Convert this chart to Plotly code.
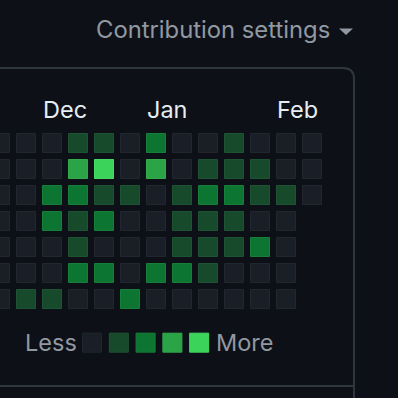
import plotly.graph_objects as go

# ---- data ----
months = ["Dec", "Jan", "Feb"]
month_cols = [2, 6, 11]          # week column where each month starts
levels = [                        # contribution level per weekday row / week column
    [0, 0, 0, 1, 1, 0, 2, 0, 0, 1, 0, 0, 0],
    [0, 0, 0, 3, 4, 0, 3, 0, 1, 1, 1, 0, 0],
    [0, 0, 2, 2, 1, 1, 0, 1, 2, 2, 1, 1, 0],
    [0, 0, 2, 1, 2, 0, 0, 1, 1, 1, 0, 0, None],
    [0, 0, 0, 1, 0, 0, 0, 1, 1, 1, 2, 0, None],
    [0, 0, 0, 2, 2, 0, 2, 2, 1, 0, 0, 0, None],
    [0, 1, 1, 0, 0, 2, 0, 0, 0, 0, 0, 0, None],
]
legend_levels = [0, 1, 2, 3, 4]

# ---- styles ----
BG = "#0d1117"
FILL = ["#1a1f27", "#17492b", "#0b7531", "#2aa446", "#3cd35a"]
EDGE = ["#22272f", "#1e5433", "#177f39", "#33ab4d", "#46d862"]
BORDER = "#30363d"
MUTED = "#9198a1"
FG = "#e6edf3"
FONT = "Inter"
W = H = 398

def px(x):
    return x / W

def py(y):
    return 1 - y / H

fig = go.Figure()

# grid cells, one trace per level
for lv in range(5):
    xs, ys = [], []
    for r, row in enumerate(levels):
        for c, v in enumerate(row):
            if v == lv:
                xs.append(c)
                ys.append(r)
    fig.add_trace(go.Scatter(
        x=xs, y=ys, mode="markers", hoverinfo="skip", showlegend=False,
        marker=dict(symbol="square", size=19, color=FILL[lv],
                    line=dict(color=EDGE[lv], width=1)),
    ))

# legend swatches
leg_x0, leg_step, leg_y = 3.54, 1.03, 7.68
fig.add_trace(go.Scatter(
    x=[leg_x0 + i * leg_step for i in range(len(legend_levels))],
    y=[leg_y] * len(legend_levels),
    mode="markers", hoverinfo="skip", showlegend=False,
    marker=dict(symbol="square", size=19,
                color=[FILL[l] for l in legend_levels],
                line=dict(color=[EDGE[l] for l in legend_levels], width=1)),
))

annotations = []
for m, c in zip(months, month_cols):
    annotations.append(dict(x=c - 0.42, y=-1.3, xref="x", yref="y", text=m,
                            showarrow=False, xanchor="left", yanchor="middle",
                            font=dict(family=FONT, size=23.5, color=FG)))
annotations.append(dict(x=px(94), y=py(29), xref="paper", yref="paper",
                        text="Contribution settings", showarrow=False,
                        xanchor="left", yanchor="middle",
                        font=dict(family=FONT, size=23.8, color=MUTED)))
annotations.append(dict(x=leg_x0 - 0.52, y=leg_y, xref="x", yref="y", text="Less",
                        showarrow=False, xanchor="right", yanchor="middle",
                        font=dict(family=FONT, size=23.5, color=MUTED)))
annotations.append(dict(x=leg_x0 + 4 * leg_step + 0.57, y=leg_y, xref="x", yref="y",
                        text="More", showarrow=False, xanchor="left", yanchor="middle",
                        font=dict(family=FONT, size=23.5, color=MUTED)))

shapes = [
    # box outline with rounded top-right corner
    dict(type="path", xref="paper", yref="paper",
         path=(f"M {px(-5)},{py(68)} L {px(343)},{py(68)} "
               f"Q {px(354)},{py(68)} {px(354)},{py(79)} L {px(354)},{py(400)}"),
         line=dict(color=BORDER, width=2)),
    dict(type="line", xref="paper", yref="paper",
         x0=px(-5), x1=px(354), y0=py(386), y1=py(386),
         line=dict(color=BORDER, width=2)),
    # dropdown caret
    dict(type="path", xref="paper", yref="paper",
         path=f"M {px(339)},{py(28.5)} L {px(353)},{py(28.5)} L {px(346)},{py(35)} Z",
         fillcolor=MUTED, line=dict(width=0)),
]

fig.update_layout(
    width=W, height=H, autosize=False,
    margin=dict(l=0, r=0, t=0, b=0),
    paper_bgcolor=BG, plot_bgcolor=BG,
    xaxis=dict(range=[0, W / 26], visible=False, fixedrange=True),
    yaxis=dict(range=[(W - 143) / 26, -143 / 26], visible=False, fixedrange=True),
    annotations=annotations, shapes=shapes,
    showlegend=False,
)

fig.write_html("out.html")
